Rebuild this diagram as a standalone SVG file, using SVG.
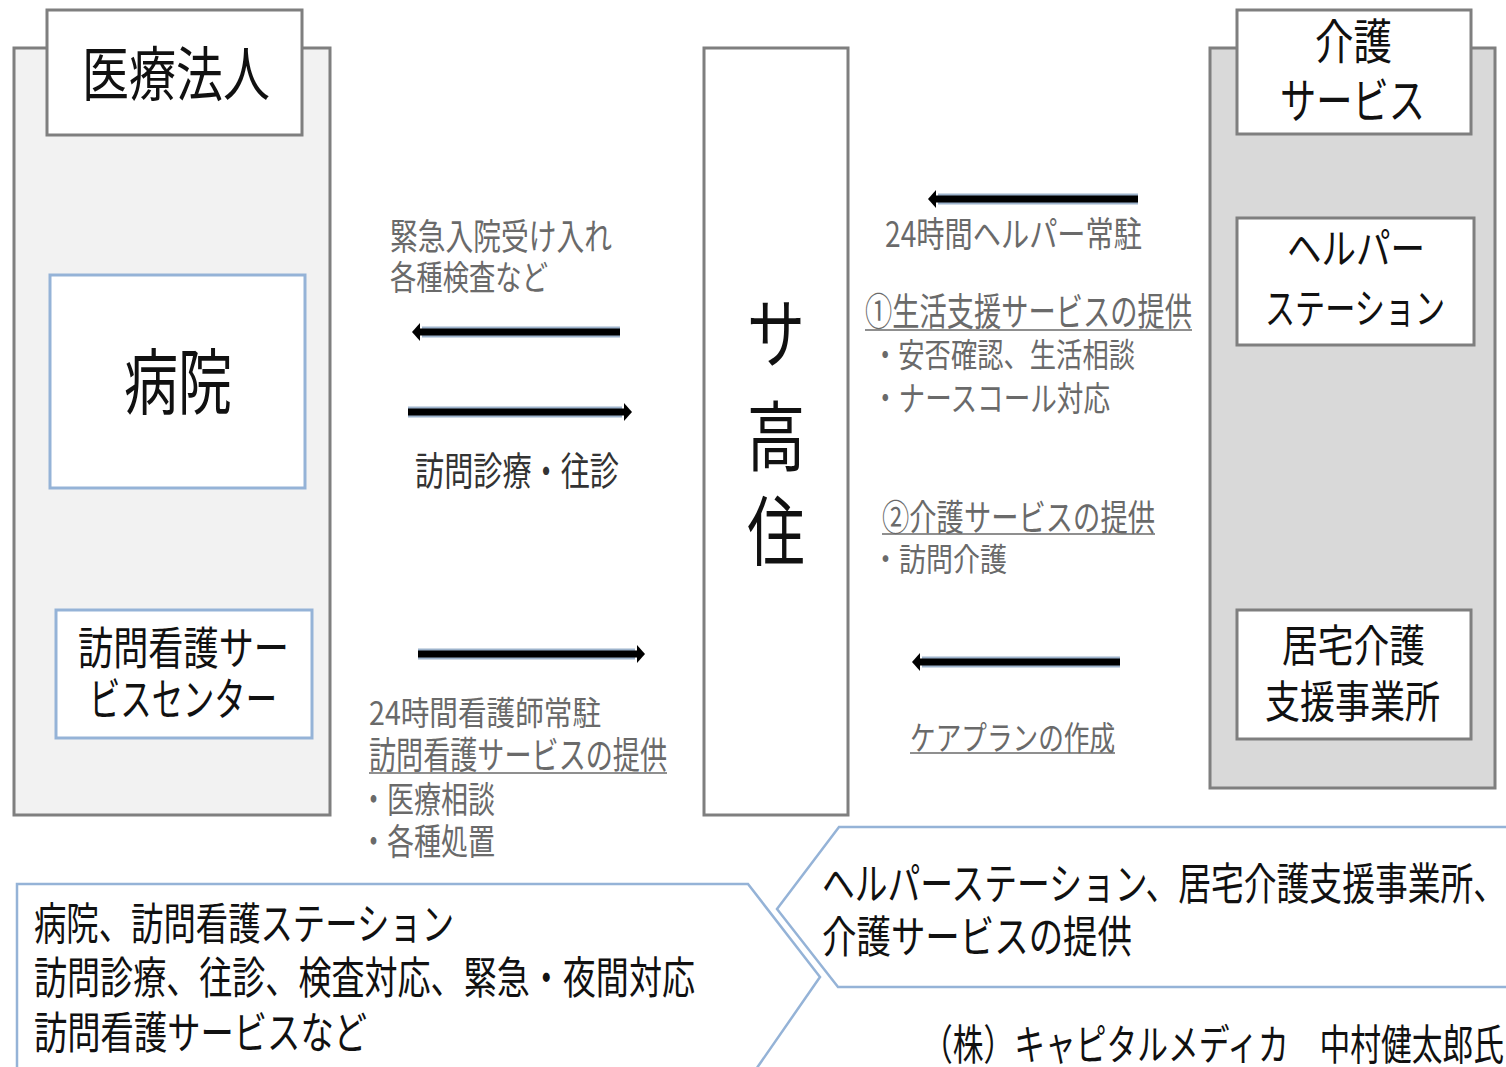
<svg xmlns="http://www.w3.org/2000/svg" width="1506" height="1067" viewBox="0 0 1506 1067">
<defs>
<style>
.t{font-family:"Noto Sans CJK JP","Noto Sans CJK SC",sans-serif}
.blk{fill:#111}
.lbl{fill:#6a6a6a}
.dk{fill:#333}
.pnl{stroke:#7f7f7f;stroke-width:3}
.wb{fill:#fff;stroke:#7f7f7f;stroke-width:3}
.bb{fill:#fff;stroke:#95b3d7;stroke-width:3}
.co{fill:#fff;stroke:#95b3d7;stroke-width:2.5}
.ul{stroke:#6a6a6a;stroke-width:1.5}
.halo{stroke:#9db3cc;stroke-width:11;fill:none}
.core{stroke:#000;stroke-width:7;fill:none;marker-end:url(#ah)}
</style>
<marker id="ah" markerUnits="userSpaceOnUse" markerWidth="10" markerHeight="18" refX="0" refY="9" orient="auto">
<path d="M0,0 L8,9 L0,18 z" fill="#000"/>
</marker>
</defs>
<rect width="1506" height="1067" fill="#fff"/>

<g id="medical-corp">
<rect x="14" y="48" width="316" height="767" fill="#f2f2f2" class="pnl"/>
<rect x="47" y="10" width="255" height="125" class="wb"/>
<text class="t blk" x="82" y="96" font-size="59" textLength="188" lengthAdjust="spacingAndGlyphs">医療法人</text>
</g>
<g id="hospital">
<rect x="50" y="275" width="255" height="213" class="bb"/>
<text class="t blk" x="124" y="408" font-size="72" textLength="108" lengthAdjust="spacingAndGlyphs">病院</text>
</g>
<g id="nursing-center">
<rect x="56" y="610" width="256" height="128" class="bb"/>
<text class="t blk" x="78" y="665" font-size="45" textLength="211" lengthAdjust="spacingAndGlyphs">訪問看護サー</text>
<text class="t blk" x="89" y="716" font-size="45" textLength="188" lengthAdjust="spacingAndGlyphs">ビスセンター</text>
</g>
<g id="sakoju">
<rect x="704" y="48" width="144" height="767" class="wb"/>
<text class="t blk" x="747" y="362" font-size="76" textLength="58" lengthAdjust="spacingAndGlyphs">サ</text>
<text class="t blk" x="747" y="465" font-size="76" textLength="58" lengthAdjust="spacingAndGlyphs">高</text>
<text class="t blk" x="747" y="560" font-size="76" textLength="58" lengthAdjust="spacingAndGlyphs">住</text>
</g>
<g id="care-service">
<rect x="1210" y="48" width="285" height="740" fill="#d9d9d9" class="pnl"/>
<rect x="1237" y="10" width="234" height="124" class="wb"/>
<text class="t blk" x="1315" y="59" font-size="48" textLength="77" lengthAdjust="spacingAndGlyphs">介護</text>
<text class="t blk" x="1280" y="118" font-size="48" textLength="145" lengthAdjust="spacingAndGlyphs">サービス</text>
</g>
<g id="helper-station">
<rect x="1237" y="218" width="237" height="127" class="wb"/>
<text class="t blk" x="1287" y="264" font-size="42" textLength="138" lengthAdjust="spacingAndGlyphs">ヘルパー</text>
<text class="t blk" x="1265" y="324" font-size="42" textLength="180" lengthAdjust="spacingAndGlyphs">ステーション</text>
</g>
<g id="care-support">
<rect x="1237" y="610" width="234" height="129" class="wb"/>
<text class="t blk" x="1282" y="662" font-size="44" textLength="143" lengthAdjust="spacingAndGlyphs">居宅介護</text>
<text class="t blk" x="1265" y="718" font-size="44" textLength="175" lengthAdjust="spacingAndGlyphs">支援事業所</text>
</g>

<g id="connectors">
<line x1="620" y1="332" x2="422" y2="332" class="halo"/>
<line x1="620" y1="332" x2="420" y2="332" class="core"/>
<line x1="408" y1="412" x2="622" y2="412" class="halo"/>
<line x1="408" y1="412" x2="624" y2="412" class="core"/>
<line x1="418" y1="654" x2="635" y2="654" class="halo" stroke-width="9"/>
<line x1="418" y1="654" x2="637" y2="654" class="core" stroke-width="6"/>
<line x1="1138" y1="199" x2="938" y2="199" class="halo"/>
<line x1="1138" y1="199" x2="936" y2="199" class="core"/>
<line x1="1120" y1="662" x2="922" y2="662" class="halo"/>
<line x1="1120" y1="662" x2="920" y2="662" class="core"/>
</g>

<g id="labels">
<text class="t lbl" x="390" y="250" font-size="36" textLength="222" lengthAdjust="spacingAndGlyphs">緊急入院受け入れ</text>
<text class="t lbl" x="390" y="290" font-size="34" textLength="158" lengthAdjust="spacingAndGlyphs">各種検査など</text>
<text class="t dk" x="415" y="485" font-size="39" textLength="204" lengthAdjust="spacingAndGlyphs">訪問診療・往診</text>
<text class="t lbl" x="885" y="247" font-size="35" textLength="257" lengthAdjust="spacingAndGlyphs">24時間ヘルパー常駐</text>
<text class="t lbl" x="865" y="325" font-size="38" textLength="327" lengthAdjust="spacingAndGlyphs">①生活支援サービスの提供</text>
<line x1="865" y1="330" x2="1192" y2="330" class="ul"/>
<text class="t lbl" x="872" y="367" font-size="33" textLength="263" lengthAdjust="spacingAndGlyphs">・安否確認、生活相談</text>
<text class="t lbl" x="872" y="411" font-size="34" textLength="238" lengthAdjust="spacingAndGlyphs">・ナースコール対応</text>
<text class="t lbl" x="882" y="531" font-size="36" textLength="273" lengthAdjust="spacingAndGlyphs">②介護サービスの提供</text>
<line x1="882" y1="534" x2="1155" y2="534" class="ul"/>
<text class="t lbl" x="872" y="571" font-size="32" textLength="135" lengthAdjust="spacingAndGlyphs">・訪問介護</text>
<text class="t lbl" x="910" y="750" font-size="33" textLength="205" lengthAdjust="spacingAndGlyphs">ケアプランの作成</text>
<line x1="910" y1="753" x2="1115" y2="753" class="ul"/>
<text class="t lbl" x="369" y="725" font-size="33" textLength="232" lengthAdjust="spacingAndGlyphs">24時間看護師常駐</text>
<text class="t lbl" x="369" y="769" font-size="37" textLength="298" lengthAdjust="spacingAndGlyphs">訪問看護サービスの提供</text>
<line x1="369" y1="773" x2="667" y2="773" class="ul"/>
<text class="t lbl" x="360" y="813" font-size="36" textLength="135" lengthAdjust="spacingAndGlyphs">・医療相談</text>
<text class="t lbl" x="360" y="855" font-size="36" textLength="135" lengthAdjust="spacingAndGlyphs">・各種処置</text>
</g>

<g id="callout-medical">
<path d="M17,1075 L17,884 L748,884 L820,977 L752,1075" class="co"/>
<text class="t blk" x="34" y="940" font-size="44" textLength="420" lengthAdjust="spacingAndGlyphs">病院、訪問看護ステーション</text>
<text class="t blk" x="34" y="994" font-size="44" textLength="661" lengthAdjust="spacingAndGlyphs">訪問診療、往診、検査対応、緊急・夜間対応</text>
<text class="t blk" x="34" y="1049" font-size="44" textLength="333" lengthAdjust="spacingAndGlyphs">訪問看護サービスなど</text>
</g>
<g id="callout-care">
<path d="M1512,827 L839,827 L777,909 L838,987 L1512,987" class="co"/>
<text class="t blk" x="822" y="900" font-size="44" textLength="684" lengthAdjust="spacingAndGlyphs">ヘルパーステーション、居宅介護支援事業所、</text>
<text class="t blk" x="822" y="953" font-size="44" textLength="310" lengthAdjust="spacingAndGlyphs">介護サービスの提供</text>
</g>
<g id="credit">
<text class="t blk" x="922" y="1060" font-size="42" textLength="582" lengthAdjust="spacingAndGlyphs">（株）キャピタルメディカ　中村健太郎氏</text>
</g>
</svg>
